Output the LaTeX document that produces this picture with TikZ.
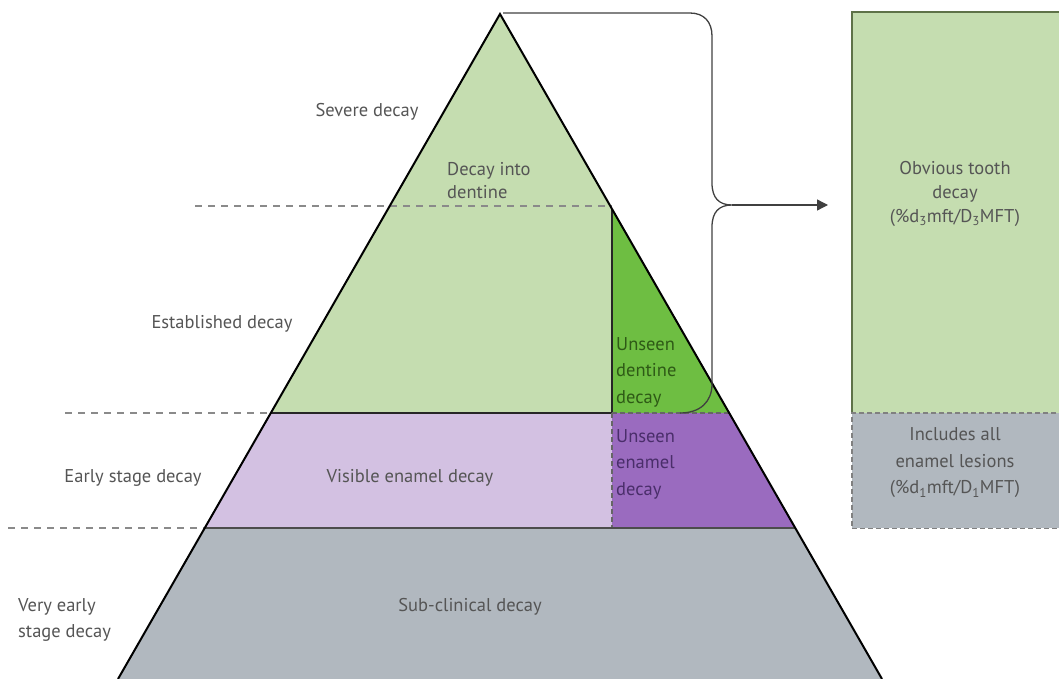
\documentclass[tikz,border=0pt]{standalone}
\usepackage{fontspec}
\setmainfont{PT Sans}
\usetikzlibrary{arrows.meta}
\definecolor{lgreen}{HTML}{C5DDB0}
\definecolor{dgreen}{HTML}{6EBE42}
\definecolor{lpurple}{HTML}{D3C1E2}
\definecolor{dpurple}{HTML}{9A6BBF}
\definecolor{greyfill}{HTML}{B1B8BF}
\definecolor{txt}{HTML}{555555}
\definecolor{dgtxt}{HTML}{2E5A16}
\definecolor{dptxt}{HTML}{4A2E6A}
\definecolor{guide}{HTML}{8A8A8A}
\definecolor{boxedge}{HTML}{5E7248}
\tikzset{
  lbl/.style={text=txt, font=\fontsize{18.5}{25.5}\selectfont, inner sep=0pt, align=center},
  lbll/.style={lbl, align=left},
  guideline/.style={guide, line width=1.3pt, dash pattern=on 7pt off 6pt},
  edge/.style={black, line width=2pt},
  brace/.style={black!75, line width=1.3pt},
}
\begin{document}
\begin{tikzpicture}[x=1pt,y=-1pt]
\useasboundingbox (0,0) rectangle (1059,679);
% key points
\coordinate (apex) at (500,14);
\coordinate (bl) at (118,679);
\coordinate (br) at (882,679);
\coordinate (l413) at (270.8,413);
\coordinate (r413) at (729,413);
\coordinate (l528) at (204.8,528);
\coordinate (r528) at (795,528);
\coordinate (m209) at (612,209);
\coordinate (m413) at (612,413);
\coordinate (m528) at (612,528);
% fills
\fill[lgreen] (apex) -- (m209) -- (m413) -- (l413) -- cycle;
\fill[dgreen] (m209) -- (r413) -- (m413) -- cycle;
\fill[lpurple] (l413) -- (m413) -- (m528) -- (l528) -- cycle;
\fill[dpurple] (m413) -- (r413) -- (r528) -- (m528) -- cycle;
\fill[greyfill] (l528) -- (r528) -- (br) -- (bl) -- cycle;
% internal lines
\draw[black!85, line width=1.6pt] (m209) -- (m413);
\draw[black!85, line width=1.6pt] (l413) -- (m413);
\draw[black!60, line width=1.2pt, dash pattern=on 5pt off 3pt] (m413) -- (r413);
\draw[black!60, line width=1.2pt, dash pattern=on 5pt off 3pt] (m413) -- (m528);
\draw[black!70, line width=1.4pt] (l528) -- (r528);
% guide lines
\coordinate (g1) at (195,206);
\coordinate (g1e) at (612,206);
\coordinate (g2) at (65,413);
\coordinate (g3) at (8,528);
\draw[guideline] (g1) -- (g1e);
\draw[guideline] (g2) -- (l413);
\draw[guideline] (g3) -- (l528);
% pyramid edges
\draw[edge, line join=miter] (bl) -- (apex) -- (br);
% right box
\node[fill=lgreen, minimum width=212pt, minimum height=401pt, anchor=north west, inner sep=0pt] (obv) at (852,12) {};
\node[fill=greyfill, minimum width=212pt, minimum height=115pt, anchor=north west, inner sep=0pt] (incl) at (852,413) {};
\draw[boxedge, line width=1.8pt] (obv.south west) -- (obv.north west) -- (obv.north east);
\draw[black!50, line width=1.2pt, dash pattern=on 5pt off 3pt] (incl.north east) -- (incl.north west) -- (incl.south west) -- (incl.south east);
% brace and arrow
\coordinate (b0) at (503,13);
\coordinate (cusp) at (732,205);
\coordinate (bend) at (680,413);
\coordinate (atip) at (828,205);
\draw[brace] (b0) -- (690,13) .. controls (704,13) and (712,22) .. (712,36) -- (712,183) .. controls (712,198) and (719,205) .. (cusp)
  .. controls (719,205) and (712,212) .. (712,227) -- (712,384) .. controls (712,402) and (700,413) .. (bend);
\draw[brace, -{Triangle[length=11pt,width=11pt]}] (cusp) -- (atip);
% labels
\node[lbl] (severe) at (367,112) {Severe decay};
\node[lbll, anchor=west, font=\fontsize{18.5}{23}\selectfont] (into) at (447,181) {Decay into\\dentine};
\node[lbl] (estab) at (222,324) {Established decay};
\node[lbll, anchor=west, text=dgtxt, font=\fontsize{18.5}{26.5}\selectfont] (unsd) at (616,372) {Unseen\\dentine\\decay};
\node[lbl] (early) at (133,478) {Early stage decay};
\node[lbl] (vis) at (410,478) {Visible enamel decay};
\node[lbll, anchor=west, text=dptxt, font=\fontsize{18.5}{26.5}\selectfont] (unse) at (616,464) {Unseen\\enamel\\decay};
\node[lbll, anchor=west] (very) at (18,620) {Very early\\stage decay};
\node[lbl] (sub) at (470,607) {Sub-clinical decay};
\node[lbl, font=\fontsize{18.5}{24}\selectfont] (obvt) at (955,194) {Obvious tooth\\decay\\(\%d\textsubscript{3}mft/D\textsubscript{3}MFT)};
\node[lbl, font=\fontsize{18.5}{26.5}\selectfont] (inclt) at (955,463) {Includes all\\enamel lesions\\(\%d\textsubscript{1}mft/D\textsubscript{1}MFT)};
\end{tikzpicture}
\end{document}
